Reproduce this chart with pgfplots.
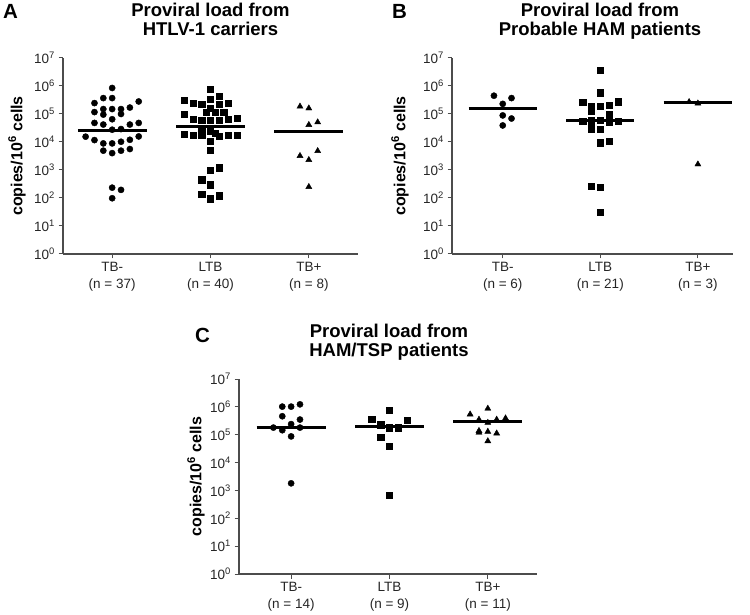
\documentclass[border=0pt]{standalone}
\usepackage{fontspec}
\setmainfont{Liberation Sans}
\usepackage{pgfplots}
\pgfplotsset{compat=1.18}
\definecolor{axgray}{gray}{0.3}
\definecolor{txtgray}{gray}{0.15}
\pgfplotsset{
  myaxis/.style={
    scale only axis, ymin=1, ymax=1e7,
    axis x line*=bottom, axis y line*=left,
    axis line style={axgray, line width=1.1pt},
    ytick={1,10,100,1000,10000,100000,1000000,10000000},
    yticklabels={10\textsuperscript{0},10\textsuperscript{1},10\textsuperscript{2},10\textsuperscript{3},10\textsuperscript{4},10\textsuperscript{5},10\textsuperscript{6},10\textsuperscript{7}},
    yminorticks=false,
    xtick={0,1,2},
    tick align=outside, major tick length=4.5pt,
    tick style={axgray, line width=1pt},
    ticklabel style={font=\fontsize{13.5}{17}\selectfont, text=txtgray},
    xticklabel style={align=center},
    clip=false, anchor=south west,
  },
  mcirc/.style={only marks, mark=*, mark size=3.1pt, black},
  msq/.style={only marks, mark=square*, mark size=3.1pt, black},
  mtri/.style={only marks, mark=triangle*, mark size=3.5pt, black},
  mmed/.style={black, line width=3pt, no marks},
}
\begin{document}
\begin{tikzpicture}
\useasboundingbox (0pt,0pt) rectangle (750pt,614pt);

% ---------------- Panel A ----------------
\begin{axis}[ymode=log, myaxis, width=295pt, height=196pt, at={(63pt,360pt)}, xmin=-0.5, xmax=2.5,
  xticklabels={{TB-\\(n = 37)},{LTB\\(n = 40)},{TB+\\(n = 8)}}]
\addplot[mcirc] coordinates {
(0,8.5e5) (-0.18,2.45e5) (-0.09,3.7e5) (0,3.7e5) (0.27,2.8e5)
(-0.18,1.17e5) (-0.09,1.5e5) (0,1.5e5) (0.09,1.5e5) (0.18,1.7e5)
(-0.09,9.5e4) (0.09,1.0e5) (0,6.5e4)
(-0.18,4.8e4) (-0.09,4.2e4) (0.18,4.2e4) (0.27,4.8e4)
(0,2.75e4) (0.09,2.9e4)
(-0.27,1.55e4) (-0.18,1.17e4) (-0.09,8.9e3) (0,8.9e3) (0.09,1.02e4) (0.18,1.2e4) (0.27,1.58e4)
(-0.09,4.9e3) (0,4.0e3) (0.09,4.9e3) (0.18,5.6e3)
(0,234) (0.09,195) (0,98)
};
\addplot[mmed] coordinates {(-0.35,2.6e4) (0.35,2.6e4)};
\addplot[msq] coordinates {
(1,7.8e5) (0.73,3.2e5) (0.82,2.4e5) (0.91,2.2e5) (1,3.3e5) (1.09,4.2e5) (1.18,2.5e5) (1.09,2.2e5)
(1,1.6e5) (0.73,9.8e4) (0.955,1.15e5) (1.045,1.15e5) (1.135,1.15e5)
(0.82,6.5e4) (0.91,6.2e4) (1,5.9e4) (1.09,6.2e4) (1.18,6.5e4) (1.27,7.1e4)
(0.91,2.9e4) (1,2.4e4) (1.045,2.0e4) (1.09,1.6e4)
(0.73,1.85e4) (0.82,1.75e4) (0.91,1.75e4) (1.18,1.75e4) (1.27,1.8e4)
(1,1.1e4) (1,5.1e3) (1,1.0e3) (1.09,1.2e3)
(0.91,450) (1,300) (0.91,135) (1,95) (1.09,120)
};
\addplot[mmed] coordinates {(0.65,3.6e4) (1.35,3.6e4)};
\addplot[mtri] coordinates {
(1.91,1.86e5) (2,1.6e5) (2,4.1e4) (2.09,5.1e4)
(1.91,3.2e3) (2,2.3e3) (2.09,4.8e3) (2,250)
};
\addplot[mmed] coordinates {(1.65,2.45e4) (2.35,2.45e4)};
\end{axis}

% ---------------- Panel B ----------------
\begin{axis}[ymode=log, myaxis, width=281pt, height=196pt, at={(452pt,360pt)}, xmin=-0.52, xmax=2.36,
  xticklabels={{TB-\\(n = 6)},{LTB\\(n = 21)},{TB+\\(n = 3)}}]
\addplot[mcirc] coordinates {
(-0.09,4.5e5) (0.09,3.7e5) (0,2.3e5) (0,8.9e4) (0.09,6.9e4) (0,3.9e4)
};
\addplot[mmed] coordinates {(-0.35,1.6e5) (0.35,1.6e5)};
\addplot[msq] coordinates {
(1,3.6e6) (1,5.8e5) (0.82,2.6e5) (0.91,1.86e5) (1,1.86e5) (1.09,2.0e5) (1.18,2.75e5)
(0.91,1.23e5) (1.09,9.5e4)
(0.82,5.5e4) (0.91,5.8e4) (1,6.2e4) (1.09,5.0e4) (1.18,5.5e4)
(0.91,3.0e4) (1,2.95e4) (1,9.5e3) (1.09,1.07e4)
(0.91,270) (1,245) (1,31)
};
\addplot[mmed] coordinates {(0.65,5.8e4) (1.35,5.8e4)};
\addplot[mtri] coordinates {(1.91,2.7e5) (2,2.4e5) (2,1.6e3)};
\addplot[mmed] coordinates {(1.65,2.5e5) (2.35,2.5e5)};
\end{axis}

% ---------------- Panel C ----------------
\begin{axis}[ymode=log, myaxis, width=298pt, height=195pt, at={(239pt,40pt)}, xmin=-0.53, xmax=2.5,
  xticklabels={{TB-\\(n = 14)},{LTB\\(n = 9)},{TB+\\(n = 11)}}]
\addplot[mcirc] coordinates {
(-0.09,1.02e6) (0,1.02e6) (0.09,1.23e6) (-0.09,4.6e5) (0.09,3.5e5) (0,2.4e5)
(-0.18,1.8e5) (0.09,1.8e5) (-0.09,1.45e5) (0,8.7e4) (0,1.8e3)
};
\addplot[mmed] coordinates {(-0.35,1.8e5) (0.35,1.8e5)};
\addplot[msq] coordinates {
(0.82,3.6e5) (0.91,2.3e5) (1,7.4e5) (1,1.8e5) (1.09,1.8e5) (1.18,3.4e5)
(0.91,7.9e4) (1,3.8e4) (1,690)
};
\addplot[mmed] coordinates {(0.65,1.9e5) (1.35,1.9e5)};
\addplot[mtri] coordinates {
(1.82,5.4e5) (2,8.7e5) (1.91,3.5e5) (2,2.7e5) (2.09,3.5e5) (2.18,3.9e5)
(1.91,1.38e5) (1.91,1.2e5) (2,1.29e5) (2.09,1.12e5) (2,5.9e4)
};
\addplot[mmed] coordinates {(1.65,2.9e5) (2.35,2.9e5)};
\end{axis}

% ---------------- Titles, labels ----------------
\begin{scope}[every node/.style={inner sep=0pt}]
\node[anchor=base west, font=\fontsize{20.5}{24}\selectfont\bfseries] at (3pt,595pt) {A};
\node[anchor=base west, font=\fontsize{20.5}{24}\selectfont\bfseries] at (392pt,595pt) {B};
\node[anchor=base west, font=\fontsize{20.5}{24}\selectfont\bfseries] at (195pt,271pt) {C};

\node[anchor=base, font=\fontsize{18.5}{22}\selectfont\bfseries] at (210.5pt,597.5pt) {Proviral load from};
\node[anchor=base, font=\fontsize{18.5}{22}\selectfont\bfseries] at (210.5pt,578.3pt) {HTLV-1 carriers};
\node[anchor=base, font=\fontsize{18.5}{22}\selectfont\bfseries] at (600pt,597.5pt) {Proviral load from};
\node[anchor=base, font=\fontsize{18.5}{22}\selectfont\bfseries] at (600pt,578.3pt) {Probable HAM patients};
\node[anchor=base, font=\fontsize{18.5}{22}\selectfont\bfseries] at (389pt,276.8pt) {Proviral load from};
\node[anchor=base, font=\fontsize{18.5}{22}\selectfont\bfseries] at (389pt,257pt) {HAM/TSP patients};

\node[rotate=90, font=\fontsize{16}{19}\selectfont\bfseries] at (17pt,458pt) {copies/10\textsuperscript{6} cells};
\node[rotate=90, font=\fontsize{16}{19}\selectfont\bfseries] at (400pt,458pt) {copies/10\textsuperscript{6} cells};
\node[rotate=90, font=\fontsize{16}{19}\selectfont\bfseries] at (196pt,137.5pt) {copies/10\textsuperscript{6} cells};
\end{scope}
\end{tikzpicture}
\end{document}
